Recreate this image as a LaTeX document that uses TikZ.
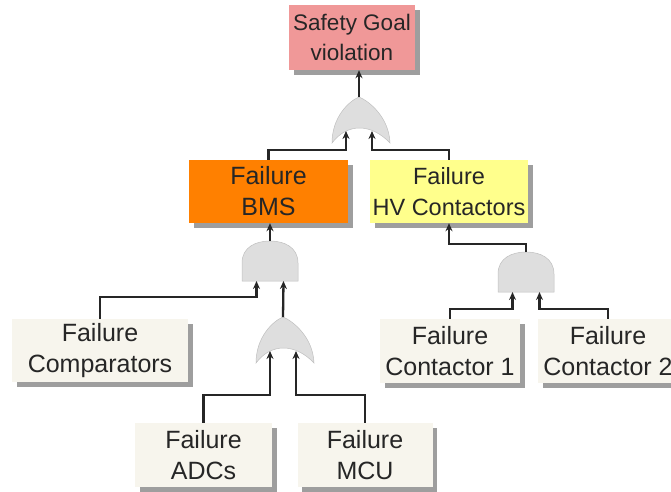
\documentclass[tikz,border=0pt]{standalone}
\usepackage{fontspec}
\setmainfont{Liberation Sans}
\usetikzlibrary{arrows.meta,shadows}
\definecolor{sgpink}{RGB}{240,152,152}
\definecolor{bmsorange}{RGB}{255,128,0}
\definecolor{hvyellow}{RGB}{255,255,140}
\definecolor{evbeige}{RGB}{247,245,237}
\definecolor{gatefillc}{RGB}{222,222,222}
\tikzset{
  evbox/.style={align=center, inner sep=2pt, font=\fontsize{25}{31}\selectfont, text=black!85,
    drop shadow={shadow xshift=4.5pt, shadow yshift=-4.5pt, fill=black!38, opacity=1}},
  conn/.style={line width=2.3pt, draw=black!85},
  arr/.style={conn, -{Stealth[length=8pt,width=7pt]}},
  gatestyle/.style={fill=gatefillc, draw=black!25, line width=0.5pt}
}
\newcommand{\myorgate}[3]{%
  \begin{scope}[shift={(#2,#3)}]
    \path[gatestyle] (-27,46) .. controls (-27,20) and (-10,4) .. (0,0)
      .. controls (10,4) and (30,20) .. (31,46)
      .. controls (12,26) and (-12,26) .. (-27,46) -- cycle;
    \coordinate (#1-out) at (0,0);
    \coordinate (#1-in1) at (-13,34);
    \coordinate (#1-in2) at (13,34);
  \end{scope}}
\newcommand{\myandgate}[3]{%
  \begin{scope}[shift={(#2,#3)}]
    \path[gatestyle] (-28,40) -- (-28,22) .. controls (-28,6) and (-14,0) .. (0,0)
      .. controls (14,0) and (28,6) .. (28,22) -- (28,40) -- cycle;
    \coordinate (#1-out) at (0,0);
    \coordinate (#1-in1) at (-13.5,40);
    \coordinate (#1-in2) at (13.5,40);
  \end{scope}}
\begin{document}
\begin{tikzpicture}[x=1pt,y=-1pt]
\useasboundingbox (0,0) rectangle (671,491);
% boxes
\node[evbox, fill=sgpink, minimum width=126pt, minimum height=65pt, font=\fontsize{22.5}{30}\selectfont] (sg) at (352,37.5) {Safety Goal\\violation};
\node[evbox, fill=bmsorange, minimum width=159pt, minimum height=63pt] (bms) at (268.5,191.5) {Failure\\BMS};
\node[evbox, fill=hvyellow, minimum width=158pt, minimum height=63pt, font=\fontsize{23.5}{31}\selectfont] (hv) at (449,191.5) {Failure\\HV Contactors};
\node[evbox, fill=evbeige, minimum width=176pt, minimum height=63pt] (comp) at (100,350.5) {Failure\\Comparators};
\node[evbox, fill=evbeige, minimum width=140pt, minimum height=64pt] (c1) at (450,351) {Failure\\Contactor 1};
\node[evbox, fill=evbeige, minimum width=140pt, minimum height=64pt] (c2) at (608,351) {Failure\\Contactor 2};
\node[evbox, fill=evbeige, minimum width=137pt, minimum height=64pt] (adc) at (203.5,455) {Failure\\ADCs};
\node[evbox, fill=evbeige, minimum width=135pt, minimum height=64pt] (mcu) at (365,455) {Failure\\MCU};
% gates
\myorgate{or1}{359}{97}
\myandgate{and1}{270}{241}
\myorgate{or2}{283}{317}
\myandgate{and2}{526}{252}
% connectors
\draw[arr] (or1-out) -- (or1-out |- sg.south);
\draw[arr] (bms.north) -- ++(0,-10) -| (or1-in1);
\draw[arr] (hv.north) -- ++(0,-10) -| (or1-in2);
\draw[arr] (and1-out) -- (and1-out |- bms.south);
\draw[arr] (comp.north) -- ++(0,-22) -| (and1-in1);
\draw[arr] (or2-out) -- (and1-in2);
\draw[arr] (adc.north) -- ++(0,-28) -| (or2-in1);
\draw[arr] (mcu.north) -- ++(0,-28) -| (or2-in2);
\draw[arr] (and2-out) -- ++(0,-8) -| (hv.south);
\draw[arr] (c1.north) -- ++(0,-10) -| (and2-in1);
\draw[arr] (c2.north) -- ++(0,-10) -| (and2-in2);
\end{tikzpicture}
\end{document}
